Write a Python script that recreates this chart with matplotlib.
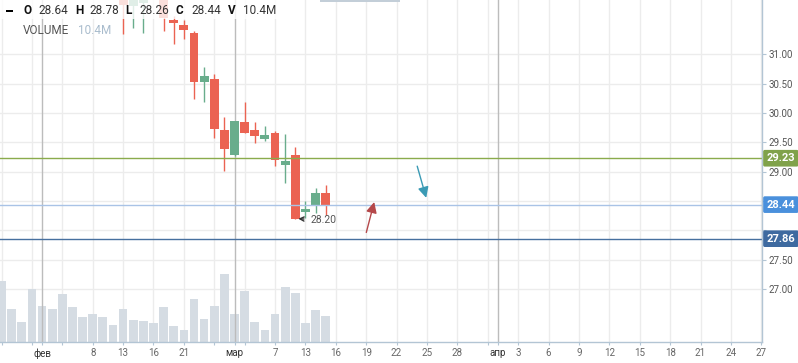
import matplotlib
matplotlib.use("Agg")
import matplotlib.pyplot as plt
from matplotlib.patches import Rectangle

plt.rcParams['font.family'] = ['Roboto', 'DejaVu Sans']

# --- Daily volume (millions), one slot per trading day, slot 0 = 26 Jan
volume_m = [24.4, 13.2, 8.0, 21.2, 14.4, 13.2, 19.2, 14.0, 10.0, 11.2, 10.0,
            6.8, 13.2, 8.8, 8.4, 7.6, 14.0, 6.4, 4.8, 17.2, 9.2, 14.4, 27.2,
            11.2, 20.4, 8.0, 4.8, 11.2, 22.0, 19.6, 7.6, 12.8, 10.4]

# --- OHLC for the candles that reach the visible price window (slots 12..32)
candle_start = 12
opens = [32.10, 31.82, 31.88, 32.20, 32.05, 31.585, 31.50, 31.37, 30.53, 30.58, 29.71,
         29.29, 29.85, 29.71, 29.56, 29.66, 29.12, 29.28, 28.32, 28.43, 28.64]
highs = [32.30, 32.10, 32.15, 32.30, 32.10, 31.65, 31.58, 31.40, 30.79, 30.66, 29.94,
         29.87, 30.19, 29.85, 29.78, 29.69, 29.64, 29.42, 28.50, 28.73, 28.78]
lows = [31.35, 31.45, 31.36, 31.98, 31.40, 31.17, 31.26, 30.24, 30.19, 29.58, 29.02,
        29.27, 29.66, 29.49, 29.53, 29.09, 28.81, 28.20, 28.21, 28.30, 28.26]
closes = [31.84, 32.00, 32.00, 32.05, 31.61, 31.54, 31.42, 30.53, 30.63, 29.72, 29.39,
          29.86, 29.66, 29.61, 29.63, 29.20, 29.18, 28.20, 28.36, 28.64, 28.44]

# --- x axis: a gridline every 3 slots (trading days, then calendar days)
grid_slots = list(range(0, 76, 3))
grid_labels = ['', '', '', '8', '13', '16', '21', '', '', '7', '13', '16', '19',
               '22', '25', '28', '', '3', '6', '9', '12', '15', '18', '21', '24', '27']
month_slots = [4, 23, 49]
month_names = ['фев', 'мар', 'апр']

# price gridlines; 28.50 / 28.00 labels sit under the level tags
price_ticks = [27.0, 27.5, 28.0, 28.5, 29.0, 29.5, 30.0, 30.5, 31.0]
price_labels = ['27.00', '27.50', '', '', '29.00', '29.50', '30.00', '30.50', '31.00']

# --- horizontal levels and their tags
levels = [29.23, 28.44, 27.86]
level_line_colors = ['#8aab4c', '#a9c3e6', '#47709f']
level_box_colors = ['#80a24a', '#4a90dc', '#3e6aa0']

# --- drawn arrows: (tail slot, tail price), (head slot, head price)
arrows = [((35.94, 27.92), (36.86, 28.53), '#b5484a'),
          ((40.96, 29.14), (42.00, 28.51), '#3a9ab4')]

RED = '#eb6352'
GREEN = '#69ad8c'
VOL = '#d5dce3'
AXIS = '#b3c5d4'

W, H = 798, 363
fig = plt.figure(figsize=(W / 100, H / 100), dpi=100)
ax = fig.add_axes([0, 21 / H, 762 / W, 342 / H])
ax.set_xlim(-0.15, 75.07)
ax.set_ylim(26.10, 31.925)
vol_top = 136.8  # volume value at the top of the pane

# grid
for s in grid_slots:
    ax.axvline(s, color='#ececec', lw=1, zorder=0.5)
for p in price_ticks:
    ax.axhline(p, color='#ececec', lw=1, zorder=0.5)

# volume bars along the bottom of the pane
vol_x = list(range(len(volume_m)))
ax.bar(vol_x, [v / vol_top for v in volume_m], width=0.86, color=VOL,
       transform=ax.get_xaxis_transform(), zorder=1)

# month separators
for s in month_slots:
    ax.axvline(s, color='#bcbcbc', lw=1, zorder=1.5)

# candles
for k, (o, h, l, c) in enumerate(zip(opens, highs, lows, closes)):
    x = candle_start + k
    col = GREEN if c >= o else RED
    ax.vlines(x, l, h, color=col, lw=1, zorder=2)
    ax.bar(x, abs(c - o), bottom=min(o, c), width=0.88, color=col, zorder=2.1)

# level lines and tags
ytrans = ax.get_yaxis_transform()
for lv, lc, bc in zip(levels, level_line_colors, level_box_colors):
    ax.axhline(lv, color=lc, lw=1, zorder=2.5)
    ax.text(1 + 4.5 / 762, lv, f"{lv:.2f}", transform=ytrans, ha='left', va='center',
            fontsize=8, fontweight='bold', color='white', clip_on=False, zorder=5,
            bbox=dict(boxstyle='round,pad=0.3,rounding_size=0.15', fc=bc, ec='none'))

# arrows
for (tail, head, col) in arrows:
    ax.annotate('', xy=head, xytext=tail,
                arrowprops=dict(arrowstyle='-|>', color=col, lw=1, mutation_scale=16),
                zorder=3)

# low marker
i_low = min(range(len(lows)), key=lambda i: lows[i])
ax.annotate(f"{lows[i_low]:.2f}", xy=(candle_start + i_low + 0.3, lows[i_low]),
            xytext=(9, -1), textcoords='offset points', ha='left', va='center',
            fontsize=7.5, color='#555555',
            arrowprops=dict(arrowstyle='->', color='#333333', lw=1, shrinkA=3, shrinkB=0),
            zorder=3)

# axes styling
for side in ['top', 'left']:
    ax.spines[side].set_visible(False)
for side in ['right', 'bottom']:
    ax.spines[side].set_color(AXIS)
    ax.spines[side].set_linewidth(1)

ticks = grid_slots + month_slots
labels = grid_labels + month_names
ax.set_xticks(ticks, labels)
ax.tick_params(axis='x', length=2.5, pad=2, color=AXIS, labelsize=7, labelcolor='#666666')
for lab, t in zip(ax.get_xticklabels(), ticks):
    if t in month_slots:
        lab.set_color('#333333')

ax.yaxis.tick_right()
ax.set_yticks(price_ticks, price_labels)
ax.tick_params(axis='y', length=3, pad=1.5, color=AXIS, labelsize=7, labelcolor='#555555')

# legend strip
fig.add_artist(Rectangle((0, 1 - 19 / H), 285 / W, 19 / H, transform=fig.transFigure,
                         fc='white', ec='none', alpha=0.8, zorder=4))
fig.add_artist(Rectangle((320 / W, 1 - 2 / H), 80 / W, 2 / H, transform=fig.transFigure,
                         fc='#c3ced8', ec='none', zorder=4))
fig.add_artist(Rectangle((6 / W, 1 - 12 / H), 7 / W, 2.4 / H, transform=fig.transFigure,
                         fc='black', ec='none', zorder=5))

last = len(closes) - 1
legend_items = [
    ('O', 23, '#111111', 'bold'), (f"{opens[last]:.2f}", 38, '#333333', 'normal'),
    ('H', 75, '#111111', 'bold'), (f"{highs[last]:.2f}", 89, '#333333', 'normal'),
    ('L', 125, '#111111', 'bold'), (f"{lows[last]:.2f}", 139, '#333333', 'normal'),
    ('C', 176, '#111111', 'bold'), (f"{closes[last]:.2f}", 191, '#333333', 'normal'),
    ('V', 228, '#111111', 'bold'), (f"{volume_m[-1]:.1f}M", 243, '#333333', 'normal'),
]
for txt, xp, col, wt in legend_items:
    fig.text(xp / W, 1 - 11 / H, txt, ha='left', va='center', fontsize=8.5,
             color=col, fontweight=wt, zorder=5)
fig.text(23 / W, 1 - 30.5 / H, 'VOLUME', ha='left', va='center', fontsize=8.5,
         color='#555555', zorder=5)
fig.text(78 / W, 1 - 30.5 / H, f"{volume_m[-1]:.1f}M", ha='left', va='center',
         fontsize=8.5, color='#a9bccd', zorder=5)

fig.savefig('out.png', dpi=100)
